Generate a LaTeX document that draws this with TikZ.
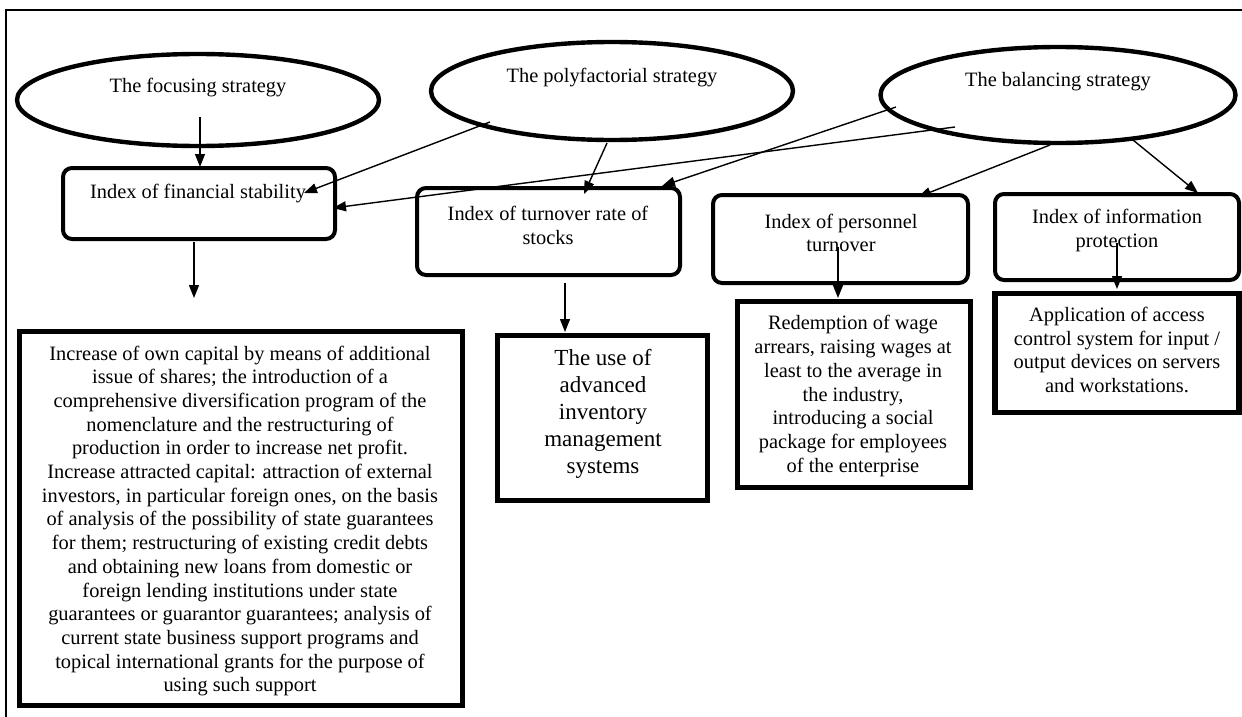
\documentclass[tikz,border=0pt]{standalone}
\usepackage{fontspec}
\setmainfont{Liberation Serif}
\usetikzlibrary{shapes.geometric,arrows.meta}
\newcommand{\normsz}{\fontsize{20.4pt}{23.7pt}\selectfont}
\newcommand{\bigsz}{\fontsize{23pt}{27pt}\selectfont}
\tikzset{
  ell/.style={ellipse, draw, line width=4.4pt, inner sep=0pt, outer sep=0pt},
  rbox/.style={rectangle, draw, rounded corners=9pt, line width=4pt, inner sep=0pt, outer sep=0pt},
  sbox/.style={rectangle, draw, line width=5.5pt, inner sep=0pt, outer sep=0pt},
  txt/.style={align=center, font=\normsz, inner sep=0pt},
  arr/.style={-{Triangle[length=13pt,width=10pt]}, line width=1.4pt},
  frame/.style={line width=1.2pt}
}
\begin{document}
\begin{tikzpicture}[x=1pt,y=-1pt]
\useasboundingbox (0,0) rectangle (1242,717);
% frame
\coordinate (fl) at (6,717);
\coordinate (fc) at (6,10);
\coordinate (fr) at (1242,10);
\draw[frame] (fl) -- (fc) -- (fr);

% ellipses
\node[ell, minimum width=362pt, minimum height=92pt] (e1) at (198,100) {};
\node[ell, minimum width=362pt, minimum height=98pt] (e2) at (612,91) {};
\node[ell, minimum width=355pt, minimum height=96pt] (e3) at (1058,95) {};
\node[txt] (t1) at (198,88) {The focusing strategy};
\node[txt] (t2) at (612,78) {The polyfactorial strategy};
\node[txt] (t3) at (1058,82) {The balancing strategy};

% rounded boxes
\node[rbox, minimum width=272pt, minimum height=71pt] (b1) at (199,203.5) {};
\node[rbox, minimum width=263pt, minimum height=87pt] (b2) at (548.5,231.5) {};
\node[rbox, minimum width=255pt, minimum height=88pt] (b3) at (840.5,239) {};
\node[rbox, minimum width=244pt, minimum height=86pt] (b4) at (1117,237) {};
\node[txt] (bt1) at (198,194) {Index of financial stability};
\node[txt] (bt2) at (548,225.5) {Index of turnover rate of\\stocks};
\node[txt] (bt3) at (841,233) {Index of personnel\\turnover};
\node[txt] (bt4) at (1117,230.5) {Index of information\\protection};

% square boxes
\node[sbox, minimum width=443pt, minimum height=374pt] (r1) at (241,518.5) {};
\node[sbox, minimum width=210pt, minimum height=165pt] (r2) at (602.5,418) {};
\node[sbox, minimum width=233pt, minimum height=186pt] (r3) at (854,394.5) {};
\node[sbox, minimum width=244pt, minimum height=119pt] (r4) at (1117,353) {};

\node[txt] (rt1) at (240,521) {Increase of own capital by means of additional\\
issue of shares; the introduction of a\\
comprehensive diversification program of the\\
nomenclature and the restructuring of\\
production in order to increase net profit.\\
Increase attracted capital: attraction of external\\
investors, in particular foreign ones, on the basis\\
of analysis of the possibility of state guarantees\\
for them; restructuring of existing credit debts\\
and obtaining new loans from domestic or\\
foreign lending institutions under state\\
guarantees or guarantor guarantees; analysis of\\
current state business support programs and\\
topical international grants for the purpose of\\
using such support};
\node[txt, font=\bigsz] (rt2) at (603,414) {The use of\\advanced\\inventory\\management\\systems};
\node[txt] (rt3) at (853,396) {Redemption of wage\\arrears, raising wages at\\least to the average in\\the industry,\\introducing a social\\package for employees\\of the enterprise};
\node[txt] (rt4) at (1117,350) {Application of access\\control system for input /\\output devices on servers\\and workstations.};

% connector end points
\coordinate (s1) at (200,117);  \coordinate (d1) at (200,167);
\coordinate (s2) at (490,122);  \coordinate (d2) at (304,193);
\coordinate (s3) at (955,127);  \coordinate (d3) at (333,208);
\coordinate (s4) at (607,143);  \coordinate (d4) at (584,194);
\coordinate (s5) at (896,107);  \coordinate (d5) at (662,186);
\coordinate (s6) at (1050,145); \coordinate (d6) at (918,197);
\coordinate (s7) at (1133,140); \coordinate (d7) at (1198,193);
\coordinate (s8) at (194,242);  \coordinate (d8) at (194,298);
\coordinate (s9) at (565,283);  \coordinate (d9) at (565,332);
\coordinate (s10) at (838,247); \coordinate (d10) at (838,298);
\coordinate (s11) at (1117,243); \coordinate (d11) at (1117,289);

\draw[arr] (s1) -- (d1);
\draw[arr] (s2) -- (d2);
\draw[arr] (s3) -- (d3);
\draw[arr] (s4) -- (d4);
\draw[arr] (s5) -- (d5);
\draw[arr] (s6) -- (d6);
\draw[arr] (s7) -- (d7);
\draw[arr] (s8) -- (d8);
\draw[arr] (s9) -- (d9);
\draw[arr] (s10) -- (d10);
\draw[arr] (s11) -- (d11);
\end{tikzpicture}
\end{document}
